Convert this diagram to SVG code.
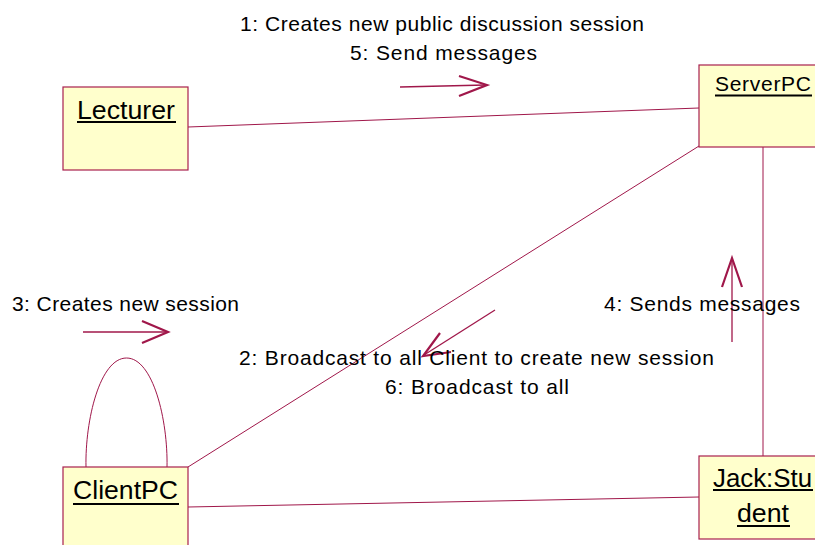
<svg xmlns="http://www.w3.org/2000/svg" width="815" height="545" viewBox="0 0 815 545">
  <style>
    .obj { fill: #FFFFCC; stroke: #A8204E; stroke-width: 1.2; }
    .link { fill: none; stroke: #A0174A; stroke-width: 1; }
    .flow { fill: none; stroke: #A0174A; stroke-width: 1.3; }
    .head { fill: none; stroke: #A0174A; stroke-width: 2.2; stroke-linecap: butt; stroke-linejoin: miter; }
    .name { font-family: "Liberation Sans", Arial, sans-serif; fill: #000; }
    .big { font-size: 26px; }
    .mid { font-size: 21px; }
    .ul { stroke: #000; stroke-width: 2; }
    .msg { font-family: "Liberation Sans", Arial, sans-serif; font-size: 21px; fill: #000; }
  </style>

  <rect width="815" height="545" fill="#FFFFFF"/>

  <!-- links between objects -->
  <g id="connectors">
    <line class="link" x1="188" y1="127" x2="699" y2="108"/>
    <line class="link" x1="699" y1="146" x2="188" y2="467"/>
    <line class="link" x1="763" y1="147" x2="763" y2="456"/>
    <line class="link" x1="188" y1="507" x2="699" y2="497"/>
    <!-- self link on ClientPC -->
    <path class="link" d="M86,467 C85,420 100,358 126.5,358 C153,358 168,420 167,467"/>

    <!-- message arrows -->
    <line class="flow" x1="400" y1="87" x2="486" y2="85"/>
    <polyline class="head" points="459,76 487,85 459,96"/>

    <line class="flow" x1="83" y1="332" x2="167" y2="332"/>
    <polyline class="head" points="142,321 168,332 142,343"/>

    <line class="flow" x1="495" y1="310" x2="424" y2="355"/>
    <polyline class="head" points="440,333 423,356 451,352"/>

    <line class="flow" x1="732" y1="342" x2="732" y2="259"/>
    <polyline class="head" points="722,287 732,258 742,287"/>
  </g>

  <!-- message labels -->
  <g id="labels">
    <text class="msg" x="240" y="31" textLength="404" lengthAdjust="spacing">1: Creates new public discussion session</text>
    <text class="msg" x="350" y="60" textLength="187" lengthAdjust="spacing">5: Send messages</text>
    <text class="msg" x="12" y="311" textLength="227" lengthAdjust="spacing">3: Creates new session</text>
    <text class="msg" x="604" y="311" textLength="196" lengthAdjust="spacing">4: Sends messages</text>
    <text class="msg" x="239" y="365" textLength="475" lengthAdjust="spacing">2: Broadcast to all Client to create new session</text>
    <text class="msg" x="385" y="394" textLength="184" lengthAdjust="spacing">6: Broadcast to all</text>
  </g>

  <g id="lecturer">
    <rect class="obj" x="63" y="87" width="125" height="83"/>
    <text class="name big" x="77" y="119" textLength="98" lengthAdjust="spacingAndGlyphs">Lecturer</text>
    <line class="ul" x1="77" y1="122" x2="176" y2="122"/>
  </g>

  <g id="serverpc">
    <rect class="obj" x="699" y="65" width="130" height="82"/>
    <text class="name mid" x="715" y="91" textLength="96" lengthAdjust="spacing">ServerPC</text>
    <line class="ul" x1="715" y1="95.5" x2="812" y2="95.5"/>
  </g>

  <g id="clientpc">
    <rect class="obj" x="63" y="467" width="125" height="90"/>
    <text class="name big" x="73" y="499" textLength="105" lengthAdjust="spacingAndGlyphs">ClientPC</text>
    <line class="ul" x1="73" y1="504" x2="179" y2="504"/>
  </g>

  <g id="jack-student">
    <rect class="obj" x="699" y="456" width="130" height="83"/>
    <text class="name big" x="713" y="487" textLength="99" lengthAdjust="spacingAndGlyphs">Jack:Stu</text>
    <line class="ul" x1="713" y1="490" x2="813" y2="490"/>
    <text class="name big" x="737" y="522" textLength="52" lengthAdjust="spacingAndGlyphs">dent</text>
    <line class="ul" x1="737" y1="526" x2="790" y2="526"/>
  </g>
</svg>
